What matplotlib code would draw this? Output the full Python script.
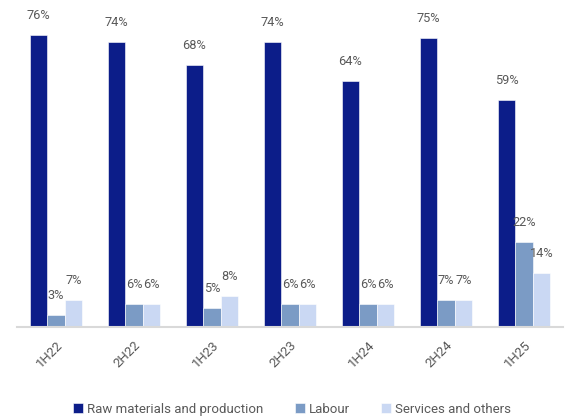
import numpy as np
import matplotlib.pyplot as plt

plt.rcParams['font.family'] = ['Roboto', 'DejaVu Sans']

periods = ['1H22', '2H22', '1H23', '2H23', '1H24', '2H24', '1H25']
raw_materials = [76, 74, 68, 74, 64, 75, 59]
labour = [3, 6, 5, 6, 6, 7, 22]
services = [7, 6, 8, 6, 6, 7, 14]

series = [
    ('Raw materials and production', raw_materials, '#0c1d89'),
    ('Labour', labour, '#7b9bc5'),
    ('Services and others', services, '#cad8f3'),
]

text_color = '#595959'
x = np.arange(len(periods))
w = 0.225

fig = plt.figure(figsize=(5.67, 4.16), dpi=100)
ax = fig.add_axes([17 / 567, 1 - 327 / 416, 546 / 567, 327 / 416])

for i, (name, vals, color) in enumerate(series):
    pos = x + (i - 1) * w
    ax.bar(pos, vals, w, color=color, label=name, edgecolor='white', linewidth=0.4)
    for px, v in zip(pos, vals):
        ax.text(px, v + 3.4, f'{v}%', ha='center', va='bottom',
                fontsize=9.2, color=text_color)

ax.set_xlim(-0.5, len(periods) - 0.5)
ax.set_ylim(0, 85)
ax.set_yticks([])
for side in ['left', 'right', 'top']:
    ax.spines[side].set_visible(False)
ax.spines['bottom'].set_color('#d9d9d9')
ax.spines['bottom'].set_linewidth(1.5)
ax.set_xticks(x)
ax.set_xticklabels(periods, rotation=45, ha='right', rotation_mode='anchor',
                   fontsize=9.5, color=text_color)
ax.tick_params(axis='x', length=0, pad=8)

fig.legend(loc='lower center', bbox_to_anchor=(0.515, -0.028), ncol=3, frameon=False,
           fontsize=9.5, labelcolor=text_color, handlelength=0.75, handleheight=0.75,
           handletextpad=0.3, columnspacing=2.4)

fig.savefig('out.png', dpi=100)
